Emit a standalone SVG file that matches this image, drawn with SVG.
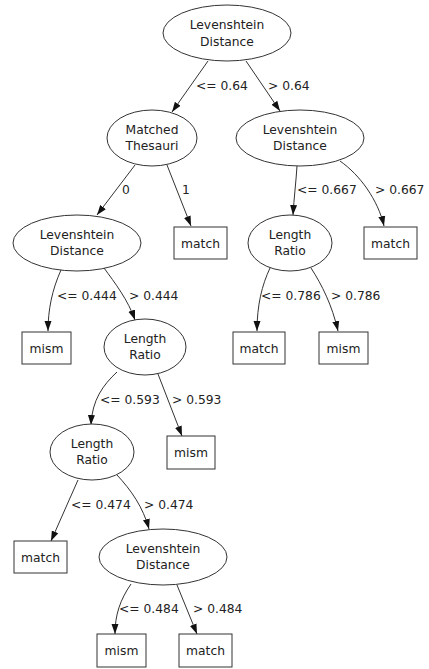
<svg xmlns="http://www.w3.org/2000/svg" width="429" height="669" viewBox="0 0 429 669">
<style>
.n ellipse,.n rect{fill:#fff;stroke:#333;stroke-width:1}
text{font-family:"DejaVu Sans","Liberation Sans",sans-serif;font-size:12.3px;fill:#222}
.n text{text-anchor:middle}
#edges path{fill:none;stroke:#333;stroke-width:1;marker-end:url(#ah)}
</style>
<defs>
<marker id="ah" markerUnits="userSpaceOnUse" markerWidth="10" markerHeight="8" refX="10" refY="4" orient="auto">
<path d="M0,0.5 L10,4 L0,7.5 z" fill="#111"/>
</marker>
</defs>
<rect width="429" height="669" fill="#fff"/>
<g id="edges">
<path d="M208,61 L172,112"/>
<path d="M246,61 L280,111"/>
<path d="M135,165 L97,215"/>
<path d="M167,165 L191,226"/>
<path d="M297,166 C296,182 294,198 293,215"/>
<path d="M340,161 C360,175 378,200 384,226"/>
<path d="M61,270 C52,290 48,310 48,331"/>
<path d="M104,268 C115,283 128,300 135,320"/>
<path d="M270,268 C262,285 257,305 257,331"/>
<path d="M311,268 C322,285 332,305 338,331"/>
<path d="M117,372 C103,385 92,400 91,425"/>
<path d="M158,374 L182,436"/>
<path d="M78,480 L51,541"/>
<path d="M117,475 C131,490 143,507 149,529"/>
<path d="M131,584 C120,600 115,615 115,634"/>
<path d="M177,585 L197,634"/>
</g>
<g id="edge-labels">
<text x="196" y="89.5">&lt;= 0.64</text>
<text x="268" y="89.5">&gt; 0.64</text>
<text x="122" y="193.5">0</text>
<text x="182" y="193.5">1</text>
<text x="297" y="193.5">&lt;= 0.667</text>
<text x="375" y="193.5">&gt; 0.667</text>
<text x="57" y="299.5">&lt;= 0.444</text>
<text x="129" y="299.5">&gt; 0.444</text>
<text x="261" y="299.5">&lt;= 0.786</text>
<text x="331" y="299.5">&gt; 0.786</text>
<text x="100" y="403.5">&lt;= 0.593</text>
<text x="172" y="403.5">&gt; 0.593</text>
<text x="71" y="508.5">&lt;= 0.474</text>
<text x="144" y="508.5">&gt; 0.474</text>
<text x="119" y="612.5">&lt;= 0.484</text>
<text x="193" y="612.5">&gt; 0.484</text>
</g>
<g id="n0" class="n"><ellipse cx="227" cy="33" rx="64" ry="28"/><text x="227" y="29">Levenshtein</text><text x="227" y="45.5">Distance</text></g>
<g id="n1" class="n"><ellipse cx="152" cy="138" rx="45" ry="28"/><text x="152" y="134">Matched</text><text x="152" y="150">Thesauri</text></g>
<g id="n2" class="n"><ellipse cx="300" cy="138" rx="64" ry="28"/><text x="300" y="134">Levenshtein</text><text x="300" y="150">Distance</text></g>
<g id="n3" class="n"><ellipse cx="77" cy="243" rx="64" ry="28"/><text x="77" y="239">Levenshtein</text><text x="77" y="255">Distance</text></g>
<g id="n4" class="n"><rect x="174" y="227" width="53" height="32"/><text x="200.5" y="247.5">match</text></g>
<g id="n5" class="n"><ellipse cx="290" cy="243" rx="42" ry="28"/><text x="290" y="239">Length</text><text x="290" y="255">Ratio</text></g>
<g id="n6" class="n"><rect x="364" y="227" width="53" height="32"/><text x="390.5" y="247.5">match</text></g>
<g id="n7" class="n"><rect x="22" y="332" width="49" height="32"/><text x="46.5" y="352.5">mism</text></g>
<g id="n8" class="n"><ellipse cx="145" cy="347" rx="41" ry="28"/><text x="145" y="343">Length</text><text x="145" y="359">Ratio</text></g>
<g id="n9" class="n"><rect x="233" y="332" width="52" height="32"/><text x="259" y="352.5">match</text></g>
<g id="n10" class="n"><rect x="319" y="332" width="49" height="32"/><text x="343.5" y="352.5">mism</text></g>
<g id="n11" class="n"><ellipse cx="92" cy="452" rx="42" ry="28"/><text x="92" y="448">Length</text><text x="92" y="464">Ratio</text></g>
<g id="n12" class="n"><rect x="167" y="436" width="48" height="33"/><text x="191" y="457">mism</text></g>
<g id="n13" class="n"><rect x="14" y="541" width="53" height="32"/><text x="40.5" y="561.5">match</text></g>
<g id="n14" class="n"><ellipse cx="163" cy="557" rx="64" ry="28"/><text x="163" y="553">Levenshtein</text><text x="163" y="569">Distance</text></g>
<g id="n15" class="n"><rect x="97" y="634" width="49" height="33"/><text x="121.5" y="655">mism</text></g>
<g id="n16" class="n"><rect x="179" y="634" width="53" height="33"/><text x="205.5" y="655">match</text></g>
</svg>
